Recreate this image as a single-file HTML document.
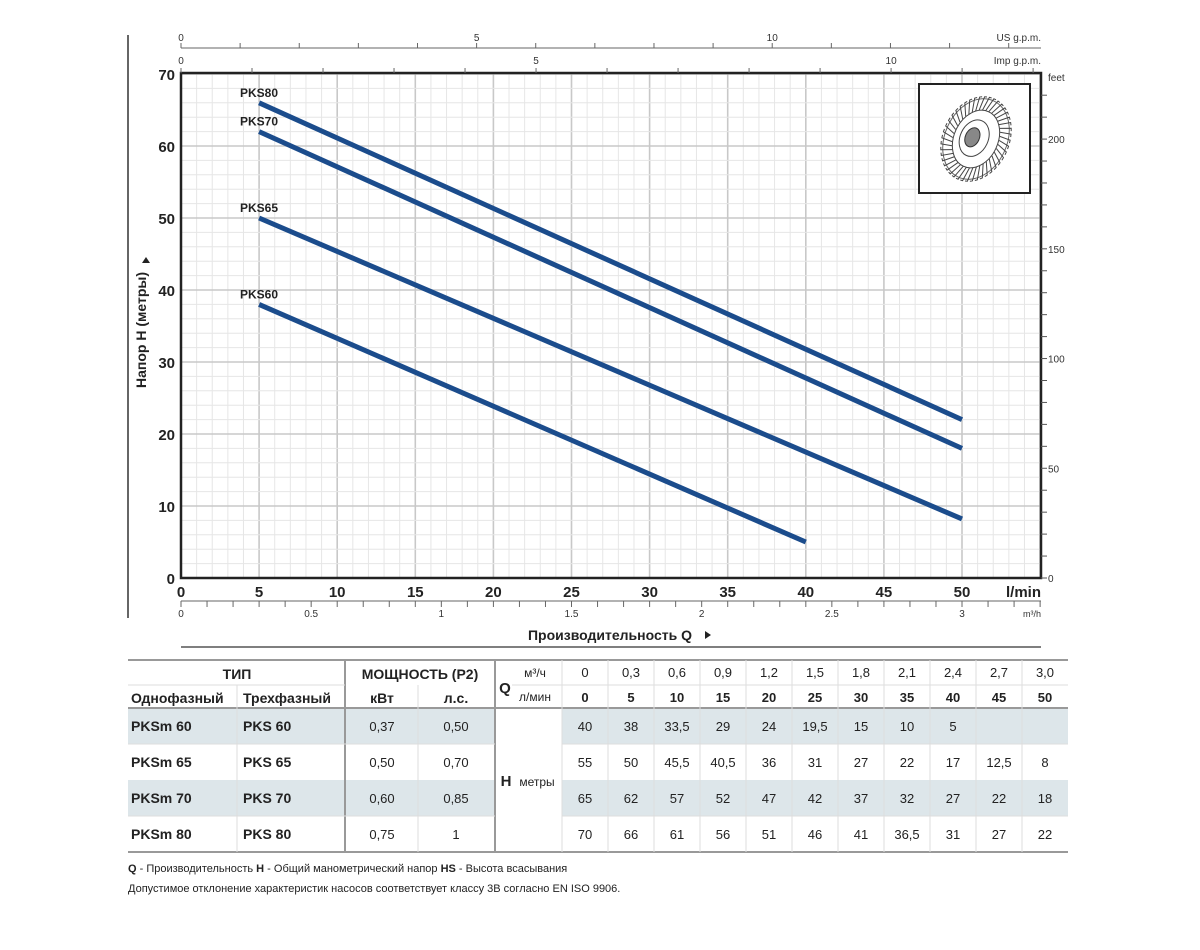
<!DOCTYPE html>
<html><head><meta charset="utf-8">
<style>
html,body{margin:0;padding:0;background:#fff;}
svg{display:block;font-family:"Liberation Sans",Arial,sans-serif;}
</style></head>
<body>
<svg id="s" width="1200" height="950" viewBox="0 0 1200 950" xmlns="http://www.w3.org/2000/svg">
</svg>
<script>
const s=document.getElementById('s');
const NS='http://www.w3.org/2000/svg';
function el(t,a,txt){const e=document.createElementNS(NS,t);for(const k in a)e.setAttribute(k,a[k]);if(txt!==undefined)e.textContent=txt;s.appendChild(e);return e;}
const X0=181,PX=15.62,Y0=578,PY=7.2;
const X=q=>X0+q*PX, Y=h=>Y0-h*PY;
for(let q=0;q<=55;q++){const maj=q%5==0;el('line',{x1:X(q),x2:X(q),y1:73,y2:578,stroke:maj?'#c8c8c8':'#e6e6e6','stroke-width':maj?1.6:1});}
for(let h=0;h<=70;h+=2){const maj=h%10==0;el('line',{x1:X0,x2:1041,y1:Y(h),y2:Y(h),stroke:maj?'#c8c8c8':'#e6e6e6','stroke-width':maj?1.6:1});}
el('line',{x1:128,x2:128,y1:35,y2:618,stroke:'#333','stroke-width':1.5});
el('rect',{x:X0,y:73,width:1041-X0,height:505,fill:'none',stroke:'#222','stroke-width':2.5});
for(let h=0;h<=70;h+=10){el('text',{x:175,y:Y(h)+6,'text-anchor':'end','font-size':15,'font-weight':'bold',fill:'#222'},h);}
for(let q=0;q<=50;q+=5){el('text',{x:X(q),y:597,'text-anchor':'middle','font-size':15,'font-weight':'bold',fill:'#222'},q);}
el('text',{x:1041,y:597,'text-anchor':'end','font-size':15,'font-weight':'bold',fill:'#222'},'l/min');
for(let f=0;f<=220;f+=10){const y=Y(f*0.3048);if(y<73)break;el('line',{x1:1041,x2:1047,y1:y,y2:y,stroke:'#555','stroke-width':1});if(f%50==0)el('text',{x:1048,y:y+4,'font-size':10,fill:'#333'},f);}
el('text',{x:1048,y:81,'font-size':10,fill:'#333'},'feet');
el('line',{x1:X0,x2:1041,y1:48,y2:48,stroke:'#666','stroke-width':1});
for(let g=0;g<=14;g++){const x=X0+g*3.785*PX;if(x>1041)break;el('line',{x1:x,x2:x,y1:43,y2:48,stroke:'#666'});if(g%5==0)el('text',{x:x,y:41,'text-anchor':'middle','font-size':10,fill:'#333'},g);}
el('text',{x:1041,y:41,'text-anchor':'end','font-size':10,fill:'#333'},'US g.p.m.');
for(let g=0;g<=12;g++){const x=X0+g*4.546*PX;if(x>1041)break;el('line',{x1:x,x2:x,y1:68,y2:73,stroke:'#666'});if(g%5==0)el('text',{x:x,y:64,'text-anchor':'middle','font-size':10,fill:'#333'},g);}
el('text',{x:1041,y:64,'text-anchor':'end','font-size':10,fill:'#333'},'Imp g.p.m.');
el('line',{x1:X0,x2:1041,y1:601,y2:601,stroke:'#666'});
for(let i=0;i<=33;i++){const x=X0+i*0.1*16.667*PX;if(x>1042)break;el('line',{x1:x,x2:x,y1:601,y2:607,stroke:'#666'});if(i%5==0)el('text',{x:x,y:617,'text-anchor':'middle','font-size':10,fill:'#333'},i==0?'0':(i/10).toString());}
el('text',{x:1041,y:617,'text-anchor':'end','font-size':9,fill:'#333'},'m³/h');
el('text',{x:610,y:640,'text-anchor':'middle','font-size':14,'font-weight':'bold',fill:'#222'},'Производительность Q');
el('path',{d:'M705,631 l6,4 l-6,4z',fill:'#222'});
el('line',{x1:X0,x2:1041,y1:647,y2:647,stroke:'#555','stroke-width':1.5});
el('text',{x:0,y:0,'font-size':14,'font-weight':'bold',fill:'#222','text-anchor':'middle',transform:'translate(146,330) rotate(-90)'},'Напор H (метры)');
el('path',{d:'M142,263 l4,-6 l4,6z',fill:'#222'});
const C=[[66,22,'PKS80',50],[62,18,'PKS70',50],[50,8.2,'PKS65',50],[38,5,'PKS60',40]];
C.forEach(c=>{el('line',{x1:X(5),y1:Y(c[0]),x2:X(c[3]),y2:Y(c[1]),stroke:'#1b4c8c','stroke-width':5});el('text',{x:240,y:Y(c[0])-6,'font-size':12,'font-weight':'bold',fill:'#222'},c[2]);});
el('rect',{x:919,y:84,width:111,height:109,fill:'#fff',stroke:'#222','stroke-width':2});
const g=el('g',{transform:'translate(976,139) rotate(25)'});
function gel(t,a){const e=document.createElementNS(NS,t);for(const k in a)e.setAttribute(k,a[k]);g.appendChild(e);return e;}
let d='';for(let i=0;i<44;i++){const a=i*Math.PI*2/44;const a2=a+0.12;d+=`M${30*Math.cos(a)*0.75},${30*Math.sin(a)} L${44*Math.cos(a2)*0.75},${44*Math.sin(a2)} L${44*Math.cos(a2+0.07)*0.75},${44*Math.sin(a2+0.07)} `;}
gel('ellipse',{cx:0,cy:0,rx:31,ry:42,fill:'none',stroke:'#666','stroke-width':1});
gel('path',{d:d,stroke:'#444','stroke-width':1,fill:'none'});
gel('ellipse',{cx:0,cy:0,rx:22,ry:30,fill:'none',stroke:'#444'});
gel('ellipse',{cx:-2,cy:0,rx:14,ry:19,fill:'none',stroke:'#444'});
gel('ellipse',{cx:-4,cy:0,rx:7,ry:10,fill:'#888',stroke:'#333'});
[[708,744],[780,816]].forEach(r=>{el('rect',{x:128,y:r[0],width:367,height:r[1]-r[0],fill:'#dde6ea'});el('rect',{x:562,y:r[0],width:506,height:r[1]-r[0],fill:'#dde6ea'});});
const L=(x1,y1,x2,y2,c,w)=>el('line',{x1,y1,x2,y2,stroke:c,'stroke-width':w});
L(128,660,1068,660,'#999',2);L(128,708,1068,708,'#999',2);L(128,852,1068,852,'#999',2);
L(345,660,345,852,'#999',2);L(495,660,495,852,'#999',2);
L(237,685,237,852,'#ddd',1);L(418,685,418,852,'#ddd',1);
L(562,660,562,852,'#ddd',1);
for(let i=1;i<11;i++)L(562+i*46,660,562+i*46,852,'#ddd',1);
L(128,685,345,685,'#ddd',1);L(512,685,1068,685,'#ddd',1);
L(128,744,495,744,'#ddd',1);L(128,816,495,816,'#ddd',1);L(562,744,1068,744,'#ddd',1);L(562,816,1068,816,'#ddd',1);
const T=(x,y,s,o)=>el('text',Object.assign({x,y,'font-size':13,fill:'#222','text-anchor':'middle'},o||{}),s);
const B={'font-weight':'bold'};
T(237,679,'ТИП',{'font-weight':'bold','font-size':14});T(420,679,'МОЩНОСТЬ (P2)',{'font-weight':'bold','font-size':14});
T(131,703,'Однофазный',{'font-weight':'bold','font-size':14,'text-anchor':'start'});T(243,703,'Трехфазный',{'font-weight':'bold','font-size':14,'text-anchor':'start'});
T(382,703,'кВт',{'font-weight':'bold','font-size':14});T(456,703,'л.с.',{'font-weight':'bold','font-size':14});
T(505,693,'Q',Object.assign({'font-size':15},B));
T(535,677,'м³/ч',{'font-size':12});T(535,701,'л/мин',{'font-size':12});
const m3=['0','0,3','0,6','0,9','1,2','1,5','1,8','2,1','2,4','2,7','3,0'];
m3.forEach((v,i)=>{T(585+i*46,677,v);T(585+i*46,702,i*5,B);});
const data=[['PKSm 60','PKS 60','0,37','0,50',[40,38,'33,5',29,24,'19,5',15,10,5,'','']],
['PKSm 65','PKS 65','0,50','0,70',[55,50,'45,5','40,5',36,31,27,22,17,'12,5',8]],
['PKSm 70','PKS 70','0,60','0,85',[65,62,57,52,47,42,37,32,27,22,18]],
['PKSm 80','PKS 80','0,75','1',[70,66,61,56,51,46,41,'36,5',31,27,22]]];
data.forEach((r,j)=>{const y=731+j*36;
T(131,y,r[0],{'font-weight':'bold','text-anchor':'start','font-size':14});T(243,y,r[1],{'font-weight':'bold','text-anchor':'start','font-size':14});
T(382,y,r[2]);T(456,y,r[3]);r[4].forEach((v,i)=>T(585+i*46,y,v));});
T(506,786,'H',Object.assign({'font-size':15},B));T(537,786,'метры',{'font-size':12});
const ft=el('text',{x:128,y:872,'font-size':11,fill:'#222'});
ft.innerHTML='<tspan font-weight="bold">Q</tspan> - Производительность  <tspan font-weight="bold">H</tspan> - Общий манометрический напор  <tspan font-weight="bold">HS</tspan> - Высота всасывания';
el('text',{x:128,y:892,'font-size':11,fill:'#222'},'Допустимое отклонение характеристик насосов соответствует классу 3В согласно EN ISO 9906.');
</script>
</body></html>
